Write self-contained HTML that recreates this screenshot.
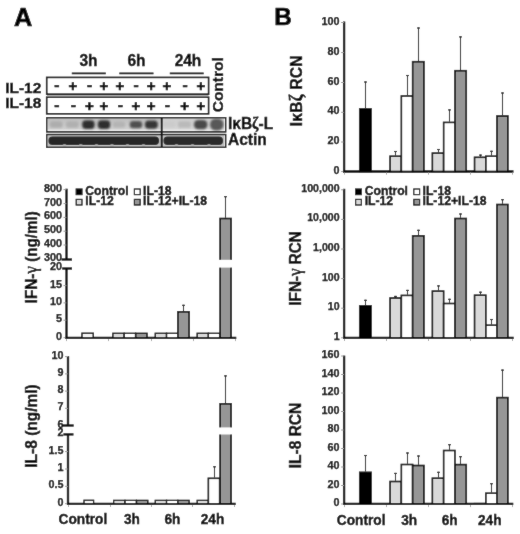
<!DOCTYPE html>
<html><head><meta charset="utf-8"><style>
html,body{margin:0;padding:0;background:#fff;}
svg{display:block;filter:grayscale(1);}
text{font-family:"Liberation Sans",sans-serif;font-weight:bold;fill:#000;stroke:#000;stroke-width:0.35px;}
</style></head><body>
<svg width="520" height="534" viewBox="0 0 520 534">
<defs><filter id="soft" filterUnits="userSpaceOnUse" x="0" y="0" width="520" height="534"><feConvolveMatrix order="3" kernelMatrix="1 2 1 2 40 2 1 2 1" divisor="52" edgeMode="duplicate" preserveAlpha="true"/></filter></defs>
<g filter="url(#soft)">
<rect width="520" height="534" fill="#fff"/>
<text x="13.9" y="25.5" font-size="25.3" text-anchor="start" style="stroke-width:0.7px">A</text>
<text x="274.2" y="25.3" font-size="24.3" text-anchor="start" style="stroke-width:0.7px">B</text>
<text x="5.2" y="92.6" font-size="15.5" text-anchor="start" >IL-12</text>
<text x="5.2" y="108.4" font-size="15.5" text-anchor="start" >IL-18</text>
<rect x="46.70" y="77.40" width="161.90" height="16.80" fill="none" stroke="#000" stroke-width="1.6"/>
<rect x="46.70" y="97.20" width="161.90" height="16.60" fill="none" stroke="#000" stroke-width="1.6"/>
<line x1="46.8" y1="95.7" x2="208.6" y2="95.7" stroke="#aaa" stroke-width="1.2"/>
<text x="56.9" y="90.10000000000001" font-size="15.5" text-anchor="middle" style="stroke-width:0.6px">-</text>
<text x="56.9" y="110.3" font-size="15.5" text-anchor="middle" style="stroke-width:0.6px">-</text>
<text x="73.0" y="91.0" font-size="15.0" text-anchor="middle" style="stroke-width:0.6px">+</text>
<text x="73.4" y="110.3" font-size="15.5" text-anchor="middle" style="stroke-width:0.6px">-</text>
<text x="89.7" y="90.10000000000001" font-size="15.5" text-anchor="middle" style="stroke-width:0.6px">-</text>
<text x="89.3" y="111.19999999999999" font-size="15.0" text-anchor="middle" style="stroke-width:0.6px">+</text>
<text x="104.0" y="91.0" font-size="15.0" text-anchor="middle" style="stroke-width:0.6px">+</text>
<text x="104.0" y="111.19999999999999" font-size="15.0" text-anchor="middle" style="stroke-width:0.6px">+</text>
<text x="120.0" y="91.0" font-size="15.0" text-anchor="middle" style="stroke-width:0.6px">+</text>
<text x="120.4" y="110.3" font-size="15.5" text-anchor="middle" style="stroke-width:0.6px">-</text>
<text x="136.20000000000002" y="90.10000000000001" font-size="15.5" text-anchor="middle" style="stroke-width:0.6px">-</text>
<text x="135.8" y="111.19999999999999" font-size="15.0" text-anchor="middle" style="stroke-width:0.6px">+</text>
<text x="151.2" y="91.0" font-size="15.0" text-anchor="middle" style="stroke-width:0.6px">+</text>
<text x="151.2" y="111.19999999999999" font-size="15.0" text-anchor="middle" style="stroke-width:0.6px">+</text>
<text x="167.0" y="91.0" font-size="15.0" text-anchor="middle" style="stroke-width:0.6px">+</text>
<text x="167.4" y="110.3" font-size="15.5" text-anchor="middle" style="stroke-width:0.6px">-</text>
<text x="185.1" y="90.10000000000001" font-size="15.5" text-anchor="middle" style="stroke-width:0.6px">-</text>
<text x="184.7" y="111.19999999999999" font-size="15.0" text-anchor="middle" style="stroke-width:0.6px">+</text>
<text x="200.9" y="91.0" font-size="15.0" text-anchor="middle" style="stroke-width:0.6px">+</text>
<text x="200.9" y="111.19999999999999" font-size="15.0" text-anchor="middle" style="stroke-width:0.6px">+</text>
<text x="88.5" y="66.5" font-size="15.5" text-anchor="middle"  transform="matrix(1 0 0 1.04 0 -2.660)">3h</text>
<text x="136.5" y="66.5" font-size="15.5" text-anchor="middle"  transform="matrix(1 0 0 1.04 0 -2.660)">6h</text>
<text x="188.0" y="66.5" font-size="15.5" text-anchor="middle"  transform="matrix(1 0 0 1.04 0 -2.660)">24h</text>
<line x1="71.8" y1="73.3" x2="105.8" y2="73.3" stroke="#000" stroke-width="1.8"/>
<line x1="119.3" y1="73.3" x2="153.5" y2="73.3" stroke="#000" stroke-width="1.8"/>
<line x1="169.8" y1="73.3" x2="203.7" y2="73.3" stroke="#000" stroke-width="1.8"/>
<text x="0" y="0" font-size="15.5" transform="translate(223.2,112.3) rotate(-90)">Control</text>
<defs>
<filter id="bl" x="-50%" y="-50%" width="200%" height="200%"><feGaussianBlur stdDeviation="0.9"/></filter>
<filter id="bl2" x="-50%" y="-50%" width="200%" height="200%"><feGaussianBlur stdDeviation="0.6"/></filter>
<clipPath id="c1"><rect x="47.5" y="118.2" width="177" height="13"/></clipPath>
<clipPath id="c2"><rect x="47.5" y="135" width="177" height="11.7"/></clipPath>
<linearGradient id="g1" x1="0" y1="0" x2="0" y2="1"><stop offset="0" stop-color="#bdbdbd"/><stop offset="0.75" stop-color="#cfcfcf"/><stop offset="0.92" stop-color="#ececec"/><stop offset="1" stop-color="#d0d0d0"/></linearGradient>
<linearGradient id="g1b" x1="0" y1="0" x2="0" y2="1"><stop offset="0" stop-color="#cdcdcd"/><stop offset="0.75" stop-color="#d6d6d6"/><stop offset="0.92" stop-color="#eeeeee"/><stop offset="1" stop-color="#d6d6d6"/></linearGradient>
<linearGradient id="g2" x1="0" y1="0" x2="0" y2="1"><stop offset="0" stop-color="#c8c8c8"/><stop offset="0.5" stop-color="#b0b0b0"/><stop offset="1" stop-color="#c8c8c8"/></linearGradient>
</defs>
<g clip-path="url(#c1)"><rect x="47" y="118" width="115" height="14" fill="url(#g1)"/><rect x="161" y="118" width="64" height="14" fill="url(#g1b)"/>
<rect x="49.70" y="121.35" width="13" height="6.5" rx="2.93" fill="#adadad" filter="url(#bl)"/>
<rect x="65.80" y="121.35" width="13" height="6.5" rx="2.93" fill="#b0b0b0" filter="url(#bl)"/>
<rect x="82.10" y="120.30" width="12.6" height="8.6" rx="3.87" fill="#2e2e2e" filter="url(#bl)"/>
<rect x="97.70" y="120.30" width="12.6" height="8.6" rx="3.87" fill="#2e2e2e" filter="url(#bl)"/>
<rect x="112.75" y="121.60" width="12.5" height="6" rx="2.70" fill="#b4b4b4" filter="url(#bl)"/>
<rect x="129.75" y="120.90" width="12.5" height="7.4" rx="3.33" fill="#505050" filter="url(#bl)"/>
<rect x="144.90" y="120.40" width="13" height="8.4" rx="3.78" fill="#363636" filter="url(#bl)"/>
<rect x="163.05" y="121.60" width="12.5" height="6" rx="2.70" fill="#cbcbcb" filter="url(#bl)"/>
<rect x="177.75" y="121.35" width="13.5" height="6.5" rx="2.93" fill="#bababa" filter="url(#bl)"/>
<rect x="193.95" y="119.90" width="13.5" height="9.4" rx="4.23" fill="#4a4a4a" filter="url(#bl)"/>
<rect x="210.05" y="118.80" width="13.5" height="11.6" rx="5.22" fill="#585858" filter="url(#bl)"/>
</g>
<g clip-path="url(#c2)"><rect x="47" y="134" width="178" height="14" fill="url(#g2)"/>
<rect x="48.5" y="136.4" width="110.5" height="8.6" rx="4" fill="#262626" filter="url(#bl2)"/>
<rect x="163.5" y="136.4" width="59.5" height="8.6" rx="4" fill="#2c2c2c" filter="url(#bl2)"/>
<ellipse cx="64.5" cy="145.6" rx="2.2" ry="1.4" fill="#b8b8b8" filter="url(#bl2)"/>
<ellipse cx="80.8" cy="145.6" rx="2.2" ry="1.4" fill="#b8b8b8" filter="url(#bl2)"/>
<ellipse cx="96.5" cy="145.6" rx="2.2" ry="1.4" fill="#b8b8b8" filter="url(#bl2)"/>
<ellipse cx="112" cy="145.6" rx="2.2" ry="1.4" fill="#b8b8b8" filter="url(#bl2)"/>
<ellipse cx="127.5" cy="145.6" rx="2.2" ry="1.4" fill="#b8b8b8" filter="url(#bl2)"/>
<ellipse cx="143.5" cy="145.6" rx="2.2" ry="1.4" fill="#b8b8b8" filter="url(#bl2)"/>
<ellipse cx="176.5" cy="145.6" rx="2.2" ry="1.4" fill="#b8b8b8" filter="url(#bl2)"/>
<ellipse cx="192.5" cy="145.6" rx="2.2" ry="1.4" fill="#b8b8b8" filter="url(#bl2)"/>
<ellipse cx="209" cy="145.6" rx="2.2" ry="1.4" fill="#b8b8b8" filter="url(#bl2)"/>
</g>
<rect x="46.70" y="117.70" width="179.00" height="14.20" fill="none" stroke="#000" stroke-width="1.4"/>
<rect x="46.70" y="134.50" width="179.00" height="12.80" fill="none" stroke="#000" stroke-width="1.4"/>
<line x1="161.7" y1="117.7" x2="161.7" y2="147.3" stroke="#000" stroke-width="1.8"/>
<text x="228" y="128.8" font-size="15.5" text-anchor="start"  transform="matrix(1 0 0 1.12 0 -15.456)">I&#954;B<tspan font-family="Liberation Serif" font-size="15.5">&#950;</tspan>-L</text>
<text x="228" y="144.7" font-size="15.5" text-anchor="start"  transform="matrix(1 0 0 1.1 0 -14.470)">Actin</text>
<line x1="344.1" y1="21.5" x2="344.1" y2="172.4" stroke="#000" stroke-width="2.3"/>
<line x1="341.1" y1="22.5" x2="344.1" y2="22.5" stroke="#999" stroke-width="1"/>
<text x="339.6" y="24.5" font-size="10.8" text-anchor="end" style="stroke-width:0.25px">100</text>
<line x1="341.1" y1="52.6" x2="344.1" y2="52.6" stroke="#999" stroke-width="1"/>
<text x="339.6" y="54.6" font-size="10.8" text-anchor="end" style="stroke-width:0.25px">80</text>
<line x1="341.1" y1="82.5" x2="344.1" y2="82.5" stroke="#999" stroke-width="1"/>
<text x="339.6" y="84.5" font-size="10.8" text-anchor="end" style="stroke-width:0.25px">60</text>
<line x1="341.1" y1="112.3" x2="344.1" y2="112.3" stroke="#999" stroke-width="1"/>
<text x="339.6" y="114.3" font-size="10.8" text-anchor="end" style="stroke-width:0.25px">40</text>
<line x1="341.1" y1="142.0" x2="344.1" y2="142.0" stroke="#999" stroke-width="1"/>
<text x="339.6" y="144.0" font-size="10.8" text-anchor="end" style="stroke-width:0.25px">20</text>
<line x1="341.1" y1="171.6" x2="344.1" y2="171.6" stroke="#999" stroke-width="1"/>
<text x="339.6" y="173.6" font-size="10.8" text-anchor="end" style="stroke-width:0.25px">0</text>
<line x1="343.1" y1="171.5" x2="513.5" y2="171.5" stroke="#000" stroke-width="2.3"/>
<line x1="344.5" y1="172.5" x2="344.5" y2="174.7" stroke="#aaa" stroke-width="1"/>
<line x1="386.5" y1="172.5" x2="386.5" y2="174.7" stroke="#aaa" stroke-width="1"/>
<line x1="428.5" y1="172.5" x2="428.5" y2="174.7" stroke="#aaa" stroke-width="1"/>
<line x1="470.5" y1="172.5" x2="470.5" y2="174.7" stroke="#aaa" stroke-width="1"/>
<line x1="512.5" y1="172.5" x2="512.5" y2="174.7" stroke="#aaa" stroke-width="1"/>
<rect x="359.75" y="108.90" width="11.30" height="62.60" fill="#000" stroke="#000" stroke-width="1.6"/>
<line x1="365.5" y1="108.1" x2="365.5" y2="81.5" stroke="#111" stroke-width="1.1"/>
<line x1="364.0" y1="82.0" x2="367.0" y2="82.0" stroke="#111" stroke-width="1.1"/>
<line x1="395.5" y1="155.4" x2="395.5" y2="151.0" stroke="#111" stroke-width="1.1"/>
<line x1="394.0" y1="151.5" x2="397.0" y2="151.5" stroke="#111" stroke-width="1.1"/>
<rect x="390.05" y="156.20" width="11.30" height="15.30" fill="#d9d9d9" stroke="#000" stroke-width="1.6"/>
<line x1="407.5" y1="95.2" x2="407.5" y2="75.0" stroke="#111" stroke-width="1.1"/>
<line x1="406.0" y1="75.5" x2="409.0" y2="75.5" stroke="#111" stroke-width="1.1"/>
<rect x="401.35" y="96.00" width="11.30" height="75.50" fill="#ffffff" stroke="#000" stroke-width="1.6"/>
<line x1="418.5" y1="60.9" x2="418.5" y2="27.5" stroke="#111" stroke-width="1.1"/>
<line x1="417.0" y1="28.0" x2="420.0" y2="28.0" stroke="#111" stroke-width="1.1"/>
<rect x="412.65" y="61.70" width="11.30" height="109.80" fill="#969696" stroke="#000" stroke-width="1.6"/>
<line x1="438.5" y1="152.3" x2="438.5" y2="149.0" stroke="#111" stroke-width="1.1"/>
<line x1="437.0" y1="149.5" x2="440.0" y2="149.5" stroke="#111" stroke-width="1.1"/>
<rect x="432.35" y="153.10" width="11.30" height="18.40" fill="#d9d9d9" stroke="#000" stroke-width="1.6"/>
<line x1="449.5" y1="121.6" x2="449.5" y2="109.4" stroke="#111" stroke-width="1.1"/>
<line x1="448.0" y1="109.9" x2="451.0" y2="109.9" stroke="#111" stroke-width="1.1"/>
<rect x="443.65" y="122.40" width="11.30" height="49.10" fill="#ffffff" stroke="#000" stroke-width="1.6"/>
<line x1="460.5" y1="69.9" x2="460.5" y2="36.4" stroke="#111" stroke-width="1.1"/>
<line x1="459.0" y1="36.9" x2="462.0" y2="36.9" stroke="#111" stroke-width="1.1"/>
<rect x="454.95" y="70.70" width="11.30" height="100.80" fill="#969696" stroke="#000" stroke-width="1.6"/>
<line x1="480.5" y1="156.5" x2="480.5" y2="154.6" stroke="#111" stroke-width="1.1"/>
<line x1="479.0" y1="155.1" x2="482.0" y2="155.1" stroke="#111" stroke-width="1.1"/>
<rect x="474.55" y="157.30" width="11.30" height="14.20" fill="#d9d9d9" stroke="#000" stroke-width="1.6"/>
<line x1="491.5" y1="155.4" x2="491.5" y2="150.8" stroke="#111" stroke-width="1.1"/>
<line x1="490.0" y1="151.3" x2="493.0" y2="151.3" stroke="#111" stroke-width="1.1"/>
<rect x="485.85" y="156.20" width="11.30" height="15.30" fill="#ffffff" stroke="#000" stroke-width="1.6"/>
<line x1="502.5" y1="115.2" x2="502.5" y2="92.5" stroke="#111" stroke-width="1.1"/>
<line x1="501.0" y1="93.0" x2="504.0" y2="93.0" stroke="#111" stroke-width="1.1"/>
<rect x="496.90" y="116.00" width="11.00" height="55.50" fill="#969696" stroke="#000" stroke-width="1.6"/>
<text x="0" y="0" font-size="15.5" letter-spacing="0.25" transform="translate(302.3,126.3) rotate(-90) scale(1,1.08)">I&#954;B<tspan font-family="Liberation Serif" font-weight="bold" font-size="17">&#950;</tspan> RCN</text>
<line x1="344.1" y1="188.8" x2="344.1" y2="338.6" stroke="#000" stroke-width="2.3"/>
<line x1="341.1" y1="189.8" x2="344.1" y2="189.8" stroke="#999" stroke-width="1"/>
<text x="339.6" y="191.8" font-size="10.6" text-anchor="end" style="stroke-width:0.25px">100,000</text>
<line x1="341.1" y1="219.4" x2="344.1" y2="219.4" stroke="#999" stroke-width="1"/>
<text x="339.6" y="221.4" font-size="10.6" text-anchor="end" style="stroke-width:0.25px">10,000</text>
<line x1="341.1" y1="249.0" x2="344.1" y2="249.0" stroke="#999" stroke-width="1"/>
<text x="339.6" y="251.0" font-size="10.6" text-anchor="end" style="stroke-width:0.25px">1,000</text>
<line x1="341.1" y1="278.6" x2="344.1" y2="278.6" stroke="#999" stroke-width="1"/>
<text x="339.6" y="280.6" font-size="10.6" text-anchor="end" style="stroke-width:0.25px">100</text>
<line x1="341.1" y1="308.2" x2="344.1" y2="308.2" stroke="#999" stroke-width="1"/>
<text x="339.6" y="310.2" font-size="10.6" text-anchor="end" style="stroke-width:0.25px">10</text>
<line x1="341.1" y1="337.8" x2="344.1" y2="337.8" stroke="#999" stroke-width="1"/>
<text x="339.6" y="339.8" font-size="10.6" text-anchor="end" style="stroke-width:0.25px">1</text>
<line x1="343.1" y1="337.8" x2="513.7" y2="337.8" stroke="#000" stroke-width="2.3"/>
<line x1="344.5" y1="338.8" x2="344.5" y2="341.0" stroke="#aaa" stroke-width="1"/>
<line x1="386.5" y1="338.8" x2="386.5" y2="341.0" stroke="#aaa" stroke-width="1"/>
<line x1="428.5" y1="338.8" x2="428.5" y2="341.0" stroke="#aaa" stroke-width="1"/>
<line x1="470.5" y1="338.8" x2="470.5" y2="341.0" stroke="#aaa" stroke-width="1"/>
<line x1="512.5" y1="338.8" x2="512.5" y2="341.0" stroke="#aaa" stroke-width="1"/>
<rect x="359.75" y="305.80" width="11.30" height="32.00" fill="#000" stroke="#000" stroke-width="1.6"/>
<line x1="365.5" y1="305.0" x2="365.5" y2="299.8" stroke="#111" stroke-width="1.1"/>
<line x1="364.0" y1="300.3" x2="367.0" y2="300.3" stroke="#111" stroke-width="1.1"/>
<line x1="395.5" y1="297.2" x2="395.5" y2="295.9" stroke="#111" stroke-width="1.1"/>
<line x1="394.0" y1="296.4" x2="397.0" y2="296.4" stroke="#111" stroke-width="1.1"/>
<rect x="390.05" y="298.00" width="11.30" height="39.80" fill="#d9d9d9" stroke="#000" stroke-width="1.6"/>
<line x1="407.5" y1="294.6" x2="407.5" y2="289.9" stroke="#111" stroke-width="1.1"/>
<line x1="406.0" y1="290.4" x2="409.0" y2="290.4" stroke="#111" stroke-width="1.1"/>
<rect x="401.35" y="295.40" width="11.30" height="42.40" fill="#ffffff" stroke="#000" stroke-width="1.6"/>
<line x1="418.5" y1="235.0" x2="418.5" y2="229.8" stroke="#111" stroke-width="1.1"/>
<line x1="417.0" y1="230.3" x2="420.0" y2="230.3" stroke="#111" stroke-width="1.1"/>
<rect x="412.65" y="235.80" width="11.30" height="102.00" fill="#969696" stroke="#000" stroke-width="1.6"/>
<line x1="438.5" y1="290.3" x2="438.5" y2="285.4" stroke="#111" stroke-width="1.1"/>
<line x1="437.0" y1="285.9" x2="440.0" y2="285.9" stroke="#111" stroke-width="1.1"/>
<rect x="432.35" y="291.10" width="11.30" height="46.70" fill="#d9d9d9" stroke="#000" stroke-width="1.6"/>
<line x1="449.5" y1="302.7" x2="449.5" y2="298.8" stroke="#111" stroke-width="1.1"/>
<line x1="448.0" y1="299.3" x2="451.0" y2="299.3" stroke="#111" stroke-width="1.1"/>
<rect x="443.65" y="303.50" width="11.30" height="34.30" fill="#ffffff" stroke="#000" stroke-width="1.6"/>
<line x1="460.5" y1="217.7" x2="460.5" y2="213.5" stroke="#111" stroke-width="1.1"/>
<line x1="459.0" y1="214.0" x2="462.0" y2="214.0" stroke="#111" stroke-width="1.1"/>
<rect x="454.95" y="218.50" width="11.30" height="119.30" fill="#969696" stroke="#000" stroke-width="1.6"/>
<line x1="480.5" y1="294.4" x2="480.5" y2="291.7" stroke="#111" stroke-width="1.1"/>
<line x1="479.0" y1="292.2" x2="482.0" y2="292.2" stroke="#111" stroke-width="1.1"/>
<rect x="474.55" y="295.20" width="11.30" height="42.60" fill="#d9d9d9" stroke="#000" stroke-width="1.6"/>
<line x1="491.5" y1="324.4" x2="491.5" y2="319.0" stroke="#111" stroke-width="1.1"/>
<line x1="490.0" y1="319.5" x2="493.0" y2="319.5" stroke="#111" stroke-width="1.1"/>
<rect x="485.85" y="325.20" width="11.30" height="12.60" fill="#ffffff" stroke="#000" stroke-width="1.6"/>
<line x1="502.5" y1="203.7" x2="502.5" y2="199.2" stroke="#111" stroke-width="1.1"/>
<line x1="501.0" y1="199.7" x2="504.0" y2="199.7" stroke="#111" stroke-width="1.1"/>
<rect x="496.90" y="204.50" width="11.00" height="133.30" fill="#969696" stroke="#000" stroke-width="1.6"/>
<text x="0" y="0" font-size="15.2" transform="translate(301.4,305.6) rotate(-90) scale(1,1.08)">IFN-<tspan font-family="Liberation Serif" font-weight="normal" font-size="17.5">&#947;</tspan> RCN</text>
<line x1="344.1" y1="355.6" x2="344.1" y2="504.8" stroke="#000" stroke-width="2.3"/>
<line x1="341.1" y1="356.0" x2="344.1" y2="356.0" stroke="#999" stroke-width="1"/>
<text x="339.6" y="358.0" font-size="10.8" text-anchor="end" style="stroke-width:0.25px">160</text>
<line x1="341.1" y1="374.5" x2="344.1" y2="374.5" stroke="#999" stroke-width="1"/>
<text x="339.6" y="376.5" font-size="10.8" text-anchor="end" style="stroke-width:0.25px">140</text>
<line x1="341.1" y1="393.0" x2="344.1" y2="393.0" stroke="#999" stroke-width="1"/>
<text x="339.6" y="395.0" font-size="10.8" text-anchor="end" style="stroke-width:0.25px">120</text>
<line x1="341.1" y1="411.5" x2="344.1" y2="411.5" stroke="#999" stroke-width="1"/>
<text x="339.6" y="413.5" font-size="10.8" text-anchor="end" style="stroke-width:0.25px">100</text>
<line x1="341.1" y1="430.0" x2="344.1" y2="430.0" stroke="#999" stroke-width="1"/>
<text x="339.6" y="432.0" font-size="10.8" text-anchor="end" style="stroke-width:0.25px">80</text>
<line x1="341.1" y1="448.5" x2="344.1" y2="448.5" stroke="#999" stroke-width="1"/>
<text x="339.6" y="450.5" font-size="10.8" text-anchor="end" style="stroke-width:0.25px">60</text>
<line x1="341.1" y1="467.0" x2="344.1" y2="467.0" stroke="#999" stroke-width="1"/>
<text x="339.6" y="469.0" font-size="10.8" text-anchor="end" style="stroke-width:0.25px">40</text>
<line x1="341.1" y1="485.5" x2="344.1" y2="485.5" stroke="#999" stroke-width="1"/>
<text x="339.6" y="487.5" font-size="10.8" text-anchor="end" style="stroke-width:0.25px">20</text>
<line x1="341.1" y1="504.0" x2="344.1" y2="504.0" stroke="#999" stroke-width="1"/>
<text x="339.6" y="506.0" font-size="10.8" text-anchor="end" style="stroke-width:0.25px">0</text>
<line x1="343.1" y1="503.9" x2="513.3" y2="503.9" stroke="#000" stroke-width="2.3"/>
<line x1="344.5" y1="504.9" x2="344.5" y2="507.09999999999997" stroke="#aaa" stroke-width="1"/>
<line x1="386.5" y1="504.9" x2="386.5" y2="507.09999999999997" stroke="#aaa" stroke-width="1"/>
<line x1="428.5" y1="504.9" x2="428.5" y2="507.09999999999997" stroke="#aaa" stroke-width="1"/>
<line x1="470.5" y1="504.9" x2="470.5" y2="507.09999999999997" stroke="#aaa" stroke-width="1"/>
<line x1="512.5" y1="504.9" x2="512.5" y2="507.09999999999997" stroke="#aaa" stroke-width="1"/>
<rect x="359.75" y="472.30" width="11.30" height="31.60" fill="#000" stroke="#000" stroke-width="1.6"/>
<line x1="365.5" y1="471.5" x2="365.5" y2="455.0" stroke="#111" stroke-width="1.1"/>
<line x1="364.0" y1="455.5" x2="367.0" y2="455.5" stroke="#111" stroke-width="1.1"/>
<line x1="395.5" y1="480.7" x2="395.5" y2="472.9" stroke="#111" stroke-width="1.1"/>
<line x1="394.0" y1="473.4" x2="397.0" y2="473.4" stroke="#111" stroke-width="1.1"/>
<rect x="390.05" y="481.50" width="11.30" height="22.40" fill="#d9d9d9" stroke="#000" stroke-width="1.6"/>
<line x1="407.5" y1="463.7" x2="407.5" y2="452.5" stroke="#111" stroke-width="1.1"/>
<line x1="406.0" y1="453.0" x2="409.0" y2="453.0" stroke="#111" stroke-width="1.1"/>
<rect x="401.35" y="464.50" width="11.30" height="39.40" fill="#ffffff" stroke="#000" stroke-width="1.6"/>
<line x1="418.5" y1="464.7" x2="418.5" y2="455.5" stroke="#111" stroke-width="1.1"/>
<line x1="417.0" y1="456.0" x2="420.0" y2="456.0" stroke="#111" stroke-width="1.1"/>
<rect x="412.65" y="465.50" width="11.30" height="38.40" fill="#969696" stroke="#000" stroke-width="1.6"/>
<line x1="438.5" y1="477.4" x2="438.5" y2="471.8" stroke="#111" stroke-width="1.1"/>
<line x1="437.0" y1="472.3" x2="440.0" y2="472.3" stroke="#111" stroke-width="1.1"/>
<rect x="432.35" y="478.20" width="11.30" height="25.70" fill="#d9d9d9" stroke="#000" stroke-width="1.6"/>
<line x1="449.5" y1="449.7" x2="449.5" y2="444.2" stroke="#111" stroke-width="1.1"/>
<line x1="448.0" y1="444.7" x2="451.0" y2="444.7" stroke="#111" stroke-width="1.1"/>
<rect x="443.65" y="450.50" width="11.30" height="53.40" fill="#ffffff" stroke="#000" stroke-width="1.6"/>
<line x1="460.5" y1="463.8" x2="460.5" y2="456.2" stroke="#111" stroke-width="1.1"/>
<line x1="459.0" y1="456.7" x2="462.0" y2="456.7" stroke="#111" stroke-width="1.1"/>
<rect x="454.95" y="464.60" width="11.30" height="39.30" fill="#969696" stroke="#000" stroke-width="1.6"/>
<rect x="474.55" y="503.70" width="11.30" height="0.20" fill="#d9d9d9" stroke="#000" stroke-width="1.6"/>
<line x1="491.5" y1="492.4" x2="491.5" y2="483.2" stroke="#111" stroke-width="1.1"/>
<line x1="490.0" y1="483.7" x2="493.0" y2="483.7" stroke="#111" stroke-width="1.1"/>
<rect x="485.85" y="493.20" width="11.30" height="10.70" fill="#ffffff" stroke="#000" stroke-width="1.6"/>
<line x1="502.5" y1="396.8" x2="502.5" y2="369.6" stroke="#111" stroke-width="1.1"/>
<line x1="501.0" y1="370.1" x2="504.0" y2="370.1" stroke="#111" stroke-width="1.1"/>
<rect x="496.90" y="397.60" width="11.00" height="106.30" fill="#969696" stroke="#000" stroke-width="1.6"/>
<text x="0" y="0" font-size="15.5" transform="translate(301.2,468.2) rotate(-90) scale(1,1.08)">IL-8 RCN</text>
<text x="361.2" y="524.7" font-size="13.7" text-anchor="middle"  transform="matrix(1 0 0 1.1 0 -52.470)">Control</text>
<text x="409.2" y="524.7" font-size="13.7" text-anchor="middle"  transform="matrix(1 0 0 1.1 0 -52.470)">3h</text>
<text x="449.7" y="524.7" font-size="13.7" text-anchor="middle"  transform="matrix(1 0 0 1.1 0 -52.470)">6h</text>
<text x="489.8" y="524.7" font-size="13.7" text-anchor="middle"  transform="matrix(1 0 0 1.1 0 -52.470)">24h</text>
<rect x="355.6" y="189.0" width="5.8" height="5.6" fill="#000" stroke="#000" stroke-width="1.2"/>
<text x="364.7" y="194.70000000000002" font-size="12.2" text-anchor="start" >Control</text>
<rect x="413.8" y="189.0" width="5.8" height="5.6" fill="#ffffff" stroke="#000" stroke-width="1.2"/>
<text x="422.5" y="194.70000000000002" font-size="12.2" text-anchor="start" >IL-18</text>
<rect x="355.6" y="199.4" width="5.8" height="5.6" fill="#d9d9d9" stroke="#000" stroke-width="1.2"/>
<text x="364.7" y="205.10000000000002" font-size="12.2" text-anchor="start" >IL-12</text>
<rect x="413.8" y="199.4" width="5.8" height="5.6" fill="#969696" stroke="#000" stroke-width="1.2"/>
<text x="422.5" y="205.10000000000002" font-size="12.2" text-anchor="start" >IL-12+IL-18</text>
<rect x="76.19999999999999" y="189.0" width="5.8" height="5.6" fill="#000" stroke="#000" stroke-width="1.2"/>
<text x="85.3" y="194.70000000000002" font-size="12.2" text-anchor="start" >Control</text>
<rect x="134.4" y="189.0" width="5.8" height="5.6" fill="#ffffff" stroke="#000" stroke-width="1.2"/>
<text x="143.1" y="194.70000000000002" font-size="12.2" text-anchor="start" >IL-18</text>
<rect x="76.19999999999999" y="199.4" width="5.8" height="5.6" fill="#d9d9d9" stroke="#000" stroke-width="1.2"/>
<text x="85.3" y="205.10000000000002" font-size="12.2" text-anchor="start" >IL-12</text>
<rect x="134.4" y="199.4" width="5.8" height="5.6" fill="#969696" stroke="#000" stroke-width="1.2"/>
<text x="143.1" y="205.10000000000002" font-size="12.2" text-anchor="start" >IL-12+IL-18</text>
<line x1="66.5" y1="188.7" x2="66.5" y2="259.9" stroke="#000" stroke-width="2.3"/>
<line x1="66.5" y1="268.3" x2="66.5" y2="338.8" stroke="#000" stroke-width="2.3"/>
<line x1="61.5" y1="259.5" x2="72.0" y2="259.5" stroke="#000" stroke-width="2.3"/>
<line x1="62.2" y1="268.5" x2="72.0" y2="268.5" stroke="#000" stroke-width="2.3"/>
<line x1="63.5" y1="189.6" x2="66.5" y2="189.6" stroke="#999" stroke-width="1"/>
<text x="62.0" y="191.6" font-size="10.8" text-anchor="end" style="stroke-width:0.25px">800</text>
<line x1="63.5" y1="203.6" x2="66.5" y2="203.6" stroke="#999" stroke-width="1"/>
<text x="62.0" y="205.6" font-size="10.8" text-anchor="end" style="stroke-width:0.25px">700</text>
<line x1="63.5" y1="217.4" x2="66.5" y2="217.4" stroke="#999" stroke-width="1"/>
<text x="62.0" y="219.4" font-size="10.8" text-anchor="end" style="stroke-width:0.25px">600</text>
<line x1="63.5" y1="231.2" x2="66.5" y2="231.2" stroke="#999" stroke-width="1"/>
<text x="62.0" y="233.2" font-size="10.8" text-anchor="end" style="stroke-width:0.25px">500</text>
<line x1="63.5" y1="245.0" x2="66.5" y2="245.0" stroke="#999" stroke-width="1"/>
<text x="62.0" y="247.0" font-size="10.8" text-anchor="end" style="stroke-width:0.25px">400</text>
<text x="62.0" y="260.8" font-size="10.8" text-anchor="end" style="stroke-width:0.25px">300</text>
<text x="62.0" y="270.3" font-size="10.8" text-anchor="end" style="stroke-width:0.25px">20</text>
<line x1="63.5" y1="285.6" x2="66.5" y2="285.6" stroke="#999" stroke-width="1"/>
<text x="62.0" y="287.6" font-size="10.8" text-anchor="end" style="stroke-width:0.25px">15</text>
<line x1="63.5" y1="302.9" x2="66.5" y2="302.9" stroke="#999" stroke-width="1"/>
<text x="62.0" y="304.9" font-size="10.8" text-anchor="end" style="stroke-width:0.25px">10</text>
<line x1="63.5" y1="320.2" x2="66.5" y2="320.2" stroke="#999" stroke-width="1"/>
<text x="62.0" y="322.2" font-size="10.8" text-anchor="end" style="stroke-width:0.25px">5</text>
<line x1="63.5" y1="337.7" x2="66.5" y2="337.7" stroke="#999" stroke-width="1"/>
<text x="62.0" y="339.7" font-size="10.8" text-anchor="end" style="stroke-width:0.25px">0</text>
<line x1="65.5" y1="337.9" x2="236.3" y2="337.9" stroke="#000" stroke-width="2.3"/>
<line x1="66.5" y1="338.9" x2="66.5" y2="341.09999999999997" stroke="#aaa" stroke-width="1"/>
<line x1="108.5" y1="338.9" x2="108.5" y2="341.09999999999997" stroke="#aaa" stroke-width="1"/>
<line x1="151.5" y1="338.9" x2="151.5" y2="341.09999999999997" stroke="#aaa" stroke-width="1"/>
<line x1="193.5" y1="338.9" x2="193.5" y2="341.09999999999997" stroke="#aaa" stroke-width="1"/>
<line x1="235.5" y1="338.9" x2="235.5" y2="341.09999999999997" stroke="#aaa" stroke-width="1"/>
<rect x="81.95" y="333.20" width="11.30" height="4.70" fill="#f4f4f4" stroke="#000" stroke-width="1.4"/>
<rect x="112.85" y="333.30" width="11.30" height="4.60" fill="#d9d9d9" stroke="#000" stroke-width="1.4"/>
<rect x="124.25" y="333.30" width="11.30" height="4.60" fill="#ffffff" stroke="#000" stroke-width="1.4"/>
<rect x="135.75" y="333.30" width="11.30" height="4.60" fill="#969696" stroke="#000" stroke-width="1.4"/>
<rect x="155.25" y="333.30" width="11.30" height="4.60" fill="#d9d9d9" stroke="#000" stroke-width="1.4"/>
<rect x="166.55" y="333.30" width="11.30" height="4.60" fill="#ffffff" stroke="#000" stroke-width="1.4"/>
<line x1="183.5" y1="311.0" x2="183.5" y2="304.8" stroke="#111" stroke-width="1.1"/>
<line x1="182.0" y1="305.3" x2="185.0" y2="305.3" stroke="#111" stroke-width="1.1"/>
<rect x="177.85" y="311.80" width="11.30" height="26.10" fill="#969696" stroke="#000" stroke-width="1.6"/>
<rect x="197.15" y="333.30" width="11.30" height="4.60" fill="#d9d9d9" stroke="#000" stroke-width="1.4"/>
<rect x="208.35" y="333.30" width="11.30" height="4.60" fill="#ffffff" stroke="#000" stroke-width="1.4"/>
<line x1="225.5" y1="217.7" x2="225.5" y2="196.2" stroke="#111" stroke-width="1.1"/>
<line x1="224.0" y1="196.7" x2="227.0" y2="196.7" stroke="#111" stroke-width="1.1"/>
<rect x="220.10" y="218.50" width="11.00" height="119.40" fill="#969696" stroke="#000" stroke-width="1.6"/>
<rect x="218.1" y="259.8" width="15" height="7.8" fill="#fff"/>
<text x="0" y="0" font-size="15.2" transform="translate(36.7,303.2) rotate(-90) scale(1,1.08)">IFN-<tspan font-family="Liberation Serif" font-weight="normal" font-size="17.5">&#947;</tspan> (ng/ml)</text>
<line x1="68.0" y1="356.2" x2="68.0" y2="425.7" stroke="#000" stroke-width="2.3"/>
<line x1="68.0" y1="434.3" x2="68.0" y2="504.8" stroke="#000" stroke-width="2.3"/>
<line x1="62.5" y1="425.5" x2="73.7" y2="425.5" stroke="#000" stroke-width="2.3"/>
<line x1="63.4" y1="434.4" x2="73.5" y2="434.4" stroke="#000" stroke-width="2.3"/>
<line x1="65.0" y1="356.6" x2="68.0" y2="356.6" stroke="#999" stroke-width="1"/>
<text x="63.5" y="358.6" font-size="10.8" text-anchor="end" style="stroke-width:0.25px">10</text>
<line x1="65.0" y1="373.9" x2="68.0" y2="373.9" stroke="#999" stroke-width="1"/>
<text x="63.5" y="375.9" font-size="10.8" text-anchor="end" style="stroke-width:0.25px">9</text>
<line x1="65.0" y1="391.1" x2="68.0" y2="391.1" stroke="#999" stroke-width="1"/>
<text x="63.5" y="393.1" font-size="10.8" text-anchor="end" style="stroke-width:0.25px">8</text>
<line x1="65.0" y1="408.3" x2="68.0" y2="408.3" stroke="#999" stroke-width="1"/>
<text x="63.5" y="410.3" font-size="10.8" text-anchor="end" style="stroke-width:0.25px">7</text>
<text x="63.5" y="427.5" font-size="10.8" text-anchor="end" style="stroke-width:0.25px">6</text>
<text x="63.5" y="436.4" font-size="10.8" text-anchor="end" style="stroke-width:0.25px">2</text>
<line x1="65.0" y1="451.6" x2="68.0" y2="451.6" stroke="#999" stroke-width="1"/>
<text x="63.5" y="453.6" font-size="10.8" text-anchor="end" style="stroke-width:0.25px">1.5</text>
<line x1="65.0" y1="469.0" x2="68.0" y2="469.0" stroke="#999" stroke-width="1"/>
<text x="63.5" y="471.0" font-size="10.8" text-anchor="end" style="stroke-width:0.25px">1</text>
<line x1="65.0" y1="486.3" x2="68.0" y2="486.3" stroke="#999" stroke-width="1"/>
<text x="63.5" y="488.3" font-size="10.8" text-anchor="end" style="stroke-width:0.25px">0.5</text>
<line x1="65.0" y1="503.7" x2="68.0" y2="503.7" stroke="#999" stroke-width="1"/>
<text x="63.5" y="505.7" font-size="10.8" text-anchor="end" style="stroke-width:0.25px">0</text>
<line x1="67.0" y1="503.8" x2="235.7" y2="503.8" stroke="#000" stroke-width="2.3"/>
<line x1="68.5" y1="504.8" x2="68.5" y2="507.0" stroke="#aaa" stroke-width="1"/>
<line x1="110.5" y1="504.8" x2="110.5" y2="507.0" stroke="#aaa" stroke-width="1"/>
<line x1="151.5" y1="504.8" x2="151.5" y2="507.0" stroke="#aaa" stroke-width="1"/>
<line x1="192.5" y1="504.8" x2="192.5" y2="507.0" stroke="#aaa" stroke-width="1"/>
<line x1="234.5" y1="504.8" x2="234.5" y2="507.0" stroke="#aaa" stroke-width="1"/>
<rect x="84.00" y="500.25" width="9.60" height="3.55" fill="#f4f4f4" stroke="#000" stroke-width="1.3"/>
<rect x="113.65" y="500.35" width="11.30" height="3.45" fill="#d9d9d9" stroke="#000" stroke-width="1.3"/>
<rect x="125.05" y="500.35" width="11.30" height="3.45" fill="#ffffff" stroke="#000" stroke-width="1.3"/>
<rect x="136.55" y="500.35" width="11.30" height="3.45" fill="#969696" stroke="#000" stroke-width="1.3"/>
<rect x="155.25" y="500.35" width="11.30" height="3.45" fill="#d9d9d9" stroke="#000" stroke-width="1.3"/>
<rect x="166.55" y="500.35" width="11.30" height="3.45" fill="#ffffff" stroke="#000" stroke-width="1.3"/>
<rect x="177.85" y="500.35" width="11.30" height="3.45" fill="#969696" stroke="#000" stroke-width="1.3"/>
<rect x="197.15" y="500.35" width="11.30" height="3.45" fill="#d9d9d9" stroke="#000" stroke-width="1.3"/>
<line x1="214.5" y1="477.5" x2="214.5" y2="466.3" stroke="#111" stroke-width="1.1"/>
<line x1="213.0" y1="466.8" x2="216.0" y2="466.8" stroke="#111" stroke-width="1.1"/>
<rect x="208.35" y="478.30" width="11.30" height="25.50" fill="#ffffff" stroke="#000" stroke-width="1.6"/>
<line x1="225.5" y1="403.0" x2="225.5" y2="375.4" stroke="#111" stroke-width="1.1"/>
<line x1="224.0" y1="375.9" x2="227.0" y2="375.9" stroke="#111" stroke-width="1.1"/>
<rect x="220.10" y="403.80" width="11.00" height="100.00" fill="#969696" stroke="#000" stroke-width="1.6"/>
<rect x="218.1" y="427.4" width="15" height="7.1" fill="#fff"/>
<text x="0" y="0" font-size="15.5" transform="translate(36.5,467.7) rotate(-90) scale(1,1.08)">IL-8 (ng/ml)</text>
<text x="82.9" y="524.4" font-size="13.7" text-anchor="middle"  transform="matrix(1 0 0 1.1 0 -52.440)">Control</text>
<text x="132.0" y="524.4" font-size="13.7" text-anchor="middle"  transform="matrix(1 0 0 1.1 0 -52.440)">3h</text>
<text x="172.4" y="524.4" font-size="13.7" text-anchor="middle"  transform="matrix(1 0 0 1.1 0 -52.440)">6h</text>
<text x="212.5" y="524.4" font-size="13.7" text-anchor="middle"  transform="matrix(1 0 0 1.1 0 -52.440)">24h</text>
</g>
</svg>
</body></html>
